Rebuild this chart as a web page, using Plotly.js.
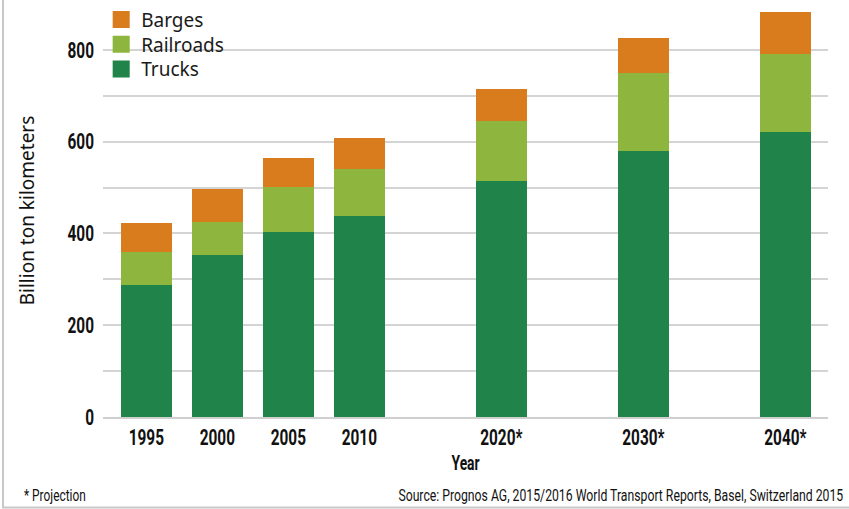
<!DOCTYPE html>
<html>
<head>
<meta charset="utf-8">
<script src="https://cdn.plot.ly/plotly-3.0.1.min.js"></script>
<style>
html,body{margin:0;padding:0;background:#fff;}
#chart{width:849px;height:509px;}
</style>
</head>
<body>
<div id="chart"></div>
<script>
const years = [1995, 2000, 2005, 2010, 2020, 2030, 2040];
const yearLabels = ["1995", "2000", "2005", "2010", "2020*", "2030*", "2040*"];
const trucks = [288, 353, 403, 437, 515, 580, 620];
const railroads = [71, 73, 99, 104, 131, 170, 172];
const barges = [63, 70, 63, 66, 69, 76, 90];

const condensed = 'Roboto, "Liberation Sans", sans-serif';
const regular = '"Noto Sans", "Open Sans", sans-serif';

const barWidth = 3.57;
const traces = [
  {type: 'bar', name: 'Trucks', x: years, y: trucks, width: barWidth, marker: {color: '#20834A'}},
  {type: 'bar', name: 'Railroads', x: years, y: railroads, width: barWidth, marker: {color: '#8EB63E'}},
  {type: 'bar', name: 'Barges', x: years, y: barges, width: barWidth, marker: {color: '#D97C1E'}}
];

const layout = {
  width: 849, height: 509,
  margin: {l: 103, r: 21, t: 4, b: 92},
  paper_bgcolor: '#ffffff', plot_bgcolor: '#ffffff',
  barmode: 'stack',
  showlegend: true,
  legend: {x: -0.0025, y: 0.99, xanchor: 'left', yanchor: 'top', traceorder: 'reversed',
           font: {family: regular, size: 19, color: '#1a1a1a'}, bgcolor: 'rgba(0,0,0,0)'},
  xaxis: {
    range: [1991.95, 2043.0], tickmode: 'array', tickvals: years, ticktext: yearLabels,
    showgrid: false, zeroline: false, showline: true, linecolor: '#cfcfcf', linewidth: 2,
    ticks: '', tickfont: {family: condensed, size: 22, color: '#111', weight: 'bold'},
    title: {text: 'Year', font: {family: condensed, size: 21, color: '#111', weight: 'bold'}, standoff: 6}
  },
  yaxis: {
    range: [0, 900], tickvals: [0, 200, 400, 600, 800], showgrid: true, gridcolor: '#d4d4d4', gridwidth: 2,
    minor: {tickvals: [100, 300, 500, 700, 900], showgrid: true, gridcolor: '#d4d4d4', gridwidth: 2},
    zeroline: false, showline: false, ticks: '', ticklabelstandoff: 8,
    tickfont: {family: condensed, size: 22, color: '#111', weight: 'bold'},
    title: {text: 'Billion ton kilometers', font: {family: regular, size: 19, color: '#111'}, standoff: 16}
  },
  shapes: [
    {type: 'rect', xref: 'paper', yref: 'paper', x0: -0.1379, x1: 1.04, y0: -0.219, y1: 1.02,
     line: {color: '#c8c8c8', width: 2}, fillcolor: 'rgba(0,0,0,0)', layer: 'below'}
  ],
  annotations: [
    {xref: 'paper', yref: 'paper', x: -0.112, y: -0.19, xanchor: 'left', yanchor: 'middle', showarrow: false,
     text: '* Projection', font: {family: condensed, size: 17, color: '#111'}},
    {xref: 'paper', yref: 'paper', x: 1.024, y: -0.19, xanchor: 'right', yanchor: 'middle', showarrow: false,
     text: 'Source: Prognos AG, 2015/2016 World Transport Reports, Basel, Switzerland 2015',
     font: {family: condensed, size: 17, color: '#111'}}
  ]
};

function condense(el, sx, pivot) {
  let b;
  try { b = el.getBBox(); } catch (e) { return; }
  let px = b.x + b.width / 2;
  if (pivot === 'left') px = b.x;
  if (pivot === 'right') px = b.x + b.width;
  const t = el.getAttribute('transform') || '';
  el.setAttribute('transform', t + ' translate(' + px + ',0) scale(' + sx + ',1) translate(' + (-px) + ',0)');
}

Plotly.newPlot('chart', traces, layout, {displayModeBar: false, staticPlot: true}).then(function (gd) {
  gd.querySelectorAll('.xtick text').forEach(function (el) { condense(el, 0.7, 'center'); });
  gd.querySelectorAll('.ytick text').forEach(function (el) { condense(el, 0.7, 'right'); });
  gd.querySelectorAll('.g-xtitle text').forEach(function (el) { condense(el, 0.66, 'center'); });
  const ann = gd.querySelectorAll('.annotation');
  ann.forEach(function (a, i) {
    const txt = a.querySelector('text');
    if (txt) condense(txt, i === 0 ? 0.7 : 0.72, i === 0 ? 'left' : 'right');
  });
  gd.querySelectorAll('.legendpoints path').forEach(function (p) {
    const t = p.getAttribute('transform') || '';
    p.setAttribute('transform', t + ' scale(1.42)');
  });
  const items = Array.from(gd.querySelectorAll('.legend .traces'));
  const parsed = items.map(function (g) {
    const m = /translate\(\s*([-\d.]+)[ ,]+([-\d.]+)\s*\)/.exec(g.getAttribute('transform') || '');
    return {g: g, x: m ? parseFloat(m[1]) : 0, y: m ? parseFloat(m[2]) : 0};
  }).sort(function (a, b) { return a.y - b.y; });
  if (parsed.length) {
    const sym = parsed[0].g.querySelector('.legendpoints path');
    let shift = 0;
    if (sym) {
      const r = sym.getBoundingClientRect();
      const host = gd.getBoundingClientRect();
      shift = 19.5 - ((r.top + r.bottom) / 2 - host.top);
    }
    const y0 = parsed[0].y + shift;
    parsed.forEach(function (p, i) {
      p.g.setAttribute('transform', 'translate(' + p.x + ',' + (y0 + i * 24.7) + ')');
    });
  }
});
</script>
</body>
</html>
